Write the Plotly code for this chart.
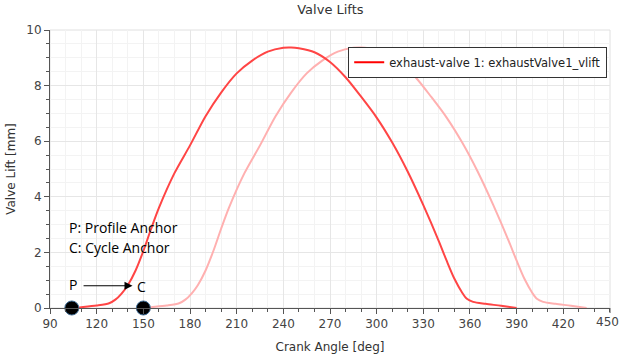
import plotly.graph_objects as go

# Crank angle [deg] and valve lift [mm] for the profile curve
profile_angle = [104, 110, 120, 128, 132, 136, 140, 145, 150, 155, 160, 170, 180, 190, 200,
                 210, 220, 230, 240, 245, 250, 260, 270, 280, 290, 300, 310, 320, 330,
                 340, 345, 350, 355, 358, 362, 370, 380, 390]
profile_lift = [0.0, 0.03, 0.09, 0.17, 0.3, 0.52, 0.82, 1.35, 2.05, 2.85, 3.6, 4.85, 5.85,
                6.9, 7.75, 8.44, 8.9, 9.22, 9.36, 9.37, 9.34, 9.2, 8.85, 8.3, 7.6, 6.85,
                5.95, 4.9, 3.7, 2.4, 1.7, 1.05, 0.55, 0.33, 0.22, 0.15, 0.08, 0.0]

# Cycle curve (light) — same profile placed at the cycle anchor
cycle_angle = [150, 155, 165, 173, 177, 181, 185, 190, 195, 200, 205, 215, 225, 235, 245,
               255, 265, 275, 285, 290, 295, 305, 315, 325, 335, 345, 355, 365, 375,
               385, 390, 395, 400, 403, 407, 415, 425, 435]
cycle_lift = profile_lift

anchor_angle = [104, 150]
anchor_lift = [0, 0]

x_ticks = [90, 120, 150, 180, 210, 240, 270, 300, 330, 360, 390, 420, 450]
x_tick_labels = ["90", "120", "150", "180", "210", "240", "270", "300", "330", "360", "390", "420", "450"]
y_ticks = [0, 2, 4, 6, 8, 10]

tick_font = dict(family="DejaVu Sans", size=12, color="#444444")

fig = go.Figure()
fig.add_trace(go.Scatter(x=cycle_angle, y=cycle_lift, mode="lines",
                         line=dict(color="#ffb0b0", width=2, shape="spline", smoothing=0.8),
                         showlegend=False, hoverinfo="skip"))
fig.add_trace(go.Scatter(x=profile_angle, y=profile_lift, mode="lines",
                         line=dict(color="#ff4545", width=2, shape="spline", smoothing=0.8),
                         showlegend=False))
fig.add_trace(go.Scatter(x=[None], y=[None], mode="lines", line=dict(color="#ff0000", width=2),
                         name="exhaust-valve 1: exhaustValve1_vlift"))
fig.add_trace(go.Scatter(x=anchor_angle, y=anchor_lift, mode="markers", cliponaxis=False,
                         marker=dict(size=14, color="black", line=dict(color="#3d6b94", width=1)),
                         showlegend=False))

ann_font = dict(family="Open Sans", size=14, color="black")
fig.add_annotation(x=101.2, y=2.88, xref="x", yref="y", text="P: Profile Anchor", showarrow=False,
                   xanchor="left", font=ann_font)
fig.add_annotation(x=101.2, y=2.16, xref="x", yref="y", text="C: Cycle Anchor", showarrow=False,
                   xanchor="left", font=ann_font)
fig.add_annotation(x=104.8, y=0.84, xref="x", yref="y", text="P", showarrow=False, font=ann_font)
fig.add_annotation(x=148.8, y=0.76, xref="x", yref="y", text="C", showarrow=False, font=ann_font)
fig.add_annotation(x=143, y=0.8, ax=110.6, ay=0.8, xref="x", yref="y", axref="x", ayref="y",
                   text="", showarrow=True, arrowhead=2, arrowsize=1.6, arrowwidth=1, arrowcolor="black")
# last x tick label, anchored by its right edge so it is kept inside the page
fig.add_annotation(x=1, y=0, xref="paper", yref="paper", text=x_tick_labels[-1],
                   showarrow=False, xanchor="right", yanchor="top", xshift=11, yshift=-5,
                   font=tick_font)

axis_common = dict(showline=True, linecolor="#555555", linewidth=1, ticks="outside", ticklen=5,
                   tickcolor="#555555", gridcolor="#e6e6e6", zeroline=False, automargin=False,
                   tickfont=tick_font, mirror=False)

fig.update_layout(
    width=627, height=358,
    margin=dict(l=50, r=17, t=30, b=50),
    paper_bgcolor="white", plot_bgcolor="white",
    title=dict(text="Valve Lifts", x=0.527, xanchor="center", y=0.985, yanchor="top",
               font=dict(family="DejaVu Sans", size=13, color="#333333")),
    legend=dict(x=0.995, y=0.94, xanchor="right", yanchor="top", bgcolor="white",
                bordercolor="#333333", borderwidth=1,
                font=dict(family="DejaVu Sans", size=11.5, color="#222222")),
    xaxis=dict(range=[89.98, 450.02], tickmode="array", tickvals=x_ticks[:-1],
               ticktext=x_tick_labels[:-1],
               title=dict(text="Crank Angle [deg]", font=dict(family="DejaVu Sans", size=12, color="#333333"),
                          standoff=12),
               minor=dict(dtick=10, tick0=90, ticks="outside", ticklen=3, tickcolor="#555555",
                          showgrid=True, gridcolor="#f3f3f3"),
               **axis_common),
    yaxis=dict(range=[0, 10], tickmode="array", tickvals=y_ticks,
               title=dict(text="Valve Lift [mm]", font=dict(family="DejaVu Sans", size=12, color="#333333"),
                          standoff=8),
               minor=dict(dtick=0.5, tick0=0, ticks="outside", ticklen=3, tickcolor="#555555",
                          showgrid=True, gridcolor="#f3f3f3"),
               **axis_common),
)
fig.add_shape(type="line", xref="paper", yref="paper", x0=1, x1=1, y0=0, y1=-0.018,
              line=dict(color="#555555", width=1))
fig.add_shape(type="rect", xref="paper", yref="paper", x0=0, y0=0, x1=1, y1=1,
              line=dict(color="#e0e0e0", width=1), layer="below")

fig.write_html("out.html", config={"displayModeBar": False},
               post_script="document.body.style.margin='0';document.body.style.overflow='hidden';")
